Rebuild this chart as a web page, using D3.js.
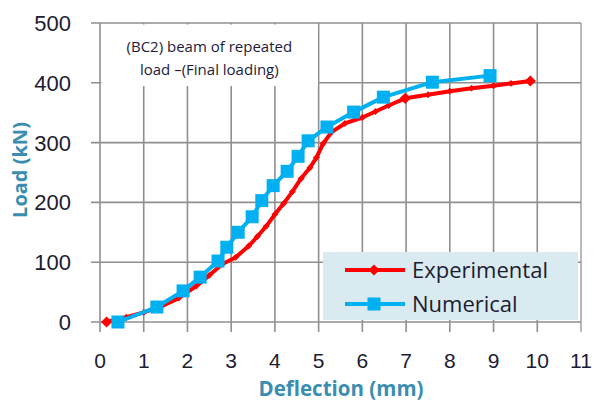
<!DOCTYPE html>
<html>
<head>
<meta charset="utf-8">
<script src="https://cdn.jsdelivr.net/npm/d3@7"></script>
<style>
  body { margin: 0; background: #fff; }
  svg { display: block; }
</style>
</head>
<body>
<svg id="chart"></svg>
<script>
// data
const experimental = [
  [0.15, 0], [0.6, 8], [1.0, 16], [1.4, 26], [1.8, 40], [2.2, 60], [2.5, 78],
  [2.8, 97], [3.1, 108], [3.4, 127], [3.6, 143], [3.8, 160], [4.0, 180],
  [4.2, 198], [4.4, 218], [4.6, 240], [4.8, 258], [4.95, 275], [5.1, 298],
  [5.3, 318], [5.6, 332], [6.0, 342], [6.3, 352], [6.6, 362], [6.98, 374],
  [7.5, 380], [8.0, 386], [8.5, 391], [9.0, 395], [9.4, 399], [9.84, 403]
];
// the few experimental points that show a full-size marker
const expMarked = [0.15, 6.98, 9.84];
const numerical = [
  [0.41, 0], [1.3, 25], [1.9, 52], [2.29, 75], [2.7, 102], [2.9, 125],
  [3.16, 150], [3.48, 176], [3.7, 203], [3.96, 228], [4.28, 252], [4.53, 277],
  [4.76, 303], [5.19, 326], [5.8, 351], [6.48, 376], [7.6, 401], [8.92, 412]
];
const xTicks = d3.range(0, 12);
const yTicks = [0, 100, 200, 300, 400, 500];
const annotation = ['(BC2) beam of repeated', 'load \u2013(Final loading)'];
const legendNames = ['Experimental', 'Numerical'];

const width = 606, height = 403;
const margin = { top: 23, right: 25, bottom: 81, left: 100 };
const svg = d3.select('#chart').attr('width', width).attr('height', height);

const x = d3.scaleLinear().domain([0, 11]).range([margin.left, width - margin.right]);
const y = d3.scaleLinear().domain([0, 500]).range([height - margin.bottom, margin.top]);

const gridColor = '#8f8f8f';
const tickFont = '"Liberation Sans", Arial, sans-serif';
const labelFont = '"Open Sans", "Noto Sans", sans-serif';

// grid
const grid = svg.append('g');
grid.selectAll('.vg').data(xTicks).join('line')
  .attr('x1', d => x(d)).attr('x2', d => x(d))
  .attr('y1', y(500)).attr('y2', y(0) + 10)
  .attr('stroke', (d, i) => i === xTicks.length - 1 ? '#a8a8a8' : gridColor)
  .attr('stroke-width', 1.6);
grid.selectAll('.hg').data(yTicks).join('line')
  .attr('x1', x(0) - 9).attr('x2', x(11))
  .attr('y1', d => y(d)).attr('y2', d => y(d))
  .attr('stroke', gridColor).attr('stroke-width', 1.6);

// annotation box covers the grid
svg.append('rect')
  .attr('x', x(0) + 1.5).attr('y', y(500) + 1.5)
  .attr('width', x(4.95) - x(0)).attr('height', y(397) - y(500))
  .attr('fill', '#fff');
svg.append('text')
  .attr('x', x(2.5)).attr('y', 52)
  .attr('text-anchor', 'middle')
  .attr('font-family', labelFont).attr('font-size', 15)
  .attr('fill', '#1c1c3a')
  .selectAll('tspan').data(annotation).join('tspan')
  .attr('x', x(2.5)).attr('dy', (d, i) => i === 0 ? 0 : 23)
  .text(d => d);

// tick labels
svg.append('g').selectAll('text').data(xTicks).join('text')
  .attr('x', d => x(d)).attr('y', 368)
  .attr('text-anchor', 'middle')
  .attr('font-family', tickFont).attr('font-size', 21)
  .attr('fill', '#1c1c32')
  .text(d => d);
svg.append('g').selectAll('text').data(yTicks).join('text')
  .attr('x', 71).attr('y', d => y(d) + 8)
  .attr('text-anchor', 'end')
  .attr('font-family', tickFont).attr('font-size', 22)
  .attr('fill', '#1c1c32')
  .text(d => d);

// axis titles
svg.append('text')
  .attr('x', 341).attr('y', 396)
  .attr('text-anchor', 'middle')
  .attr('font-family', labelFont).attr('font-weight', 'bold').attr('font-size', 20.5)
  .attr('fill', '#3a8db0')
  .text('Deflection (mm)');
svg.append('text')
  .attr('transform', 'translate(27,170) rotate(-90)')
  .attr('text-anchor', 'middle')
  .attr('font-family', labelFont).attr('font-weight', 'bold').attr('font-size', 20)
  .attr('fill', '#3a8db0')
  .text('Load (kN)');

// series
const line = d3.line().x(d => x(d[0])).y(d => y(d[1]));
const bigDiamond = d3.symbol().type(d3.symbolDiamond2).size(80);
const smallDiamond = d3.symbol().type(d3.symbolDiamond2).size(30);

svg.append('path').datum(experimental)
  .attr('fill', 'none').attr('stroke', '#ff0000').attr('stroke-width', 4)
  .attr('stroke-linejoin', 'round').attr('d', line);
svg.append('g').selectAll('path').data(experimental).join('path')
  .attr('transform', d => `translate(${x(d[0])},${y(d[1])})`)
  .attr('d', d => expMarked.includes(d[0]) ? bigDiamond() : smallDiamond())
  .attr('fill', '#ff0000');

svg.append('path').datum(numerical)
  .attr('fill', 'none').attr('stroke', '#00b0f0').attr('stroke-width', 4)
  .attr('stroke-linejoin', 'round').attr('d', line);
svg.append('g').selectAll('rect').data(numerical).join('rect')
  .attr('x', d => x(d[0]) - 6.5).attr('y', d => y(d[1]) - 6.5)
  .attr('width', 13).attr('height', 13)
  .attr('fill', '#00b0f0');

// legend
const legend = svg.append('g');
legend.append('rect')
  .attr('x', 323).attr('y', 252).attr('width', 255).attr('height', 68)
  .attr('fill', '#daeaf1');
const legendY = [270, 304];
legend.selectAll('line').data(legendNames).join('line')
  .attr('x1', 345).attr('x2', 405)
  .attr('y1', (d, i) => legendY[i]).attr('y2', (d, i) => legendY[i])
  .attr('stroke', (d, i) => i === 0 ? '#ff0000' : '#00b0f0')
  .attr('stroke-width', 4);
legend.append('path')
  .attr('transform', `translate(374,${legendY[0]})`)
  .attr('d', bigDiamond).attr('fill', '#ff0000');
legend.append('rect')
  .attr('x', 367.5).attr('y', legendY[1] - 6.5).attr('width', 13).attr('height', 13)
  .attr('fill', '#00b0f0');
legend.selectAll('text').data(legendNames).join('text')
  .attr('x', 412).attr('y', (d, i) => legendY[i] + 8)
  .attr('font-family', labelFont).attr('font-size', 22)
  .attr('fill', '#1c1c32')
  .text(d => d);
</script>
</body>
</html>
